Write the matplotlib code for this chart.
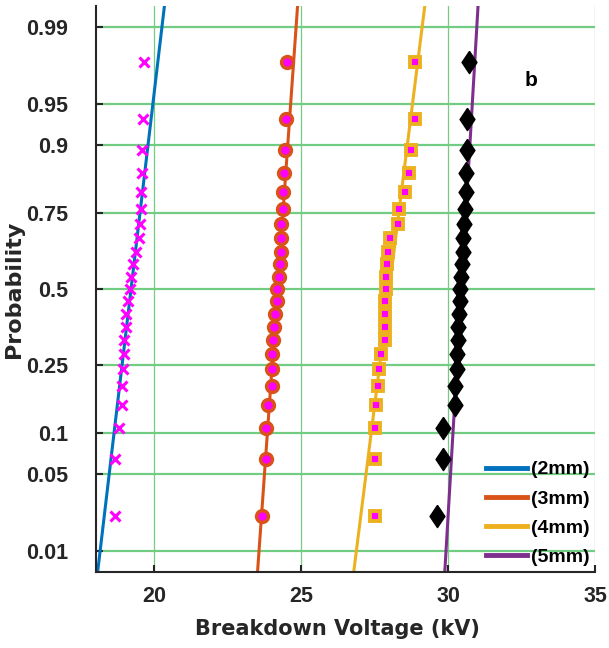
import numpy as np
import matplotlib
matplotlib.use('Agg')
import matplotlib.pyplot as plt
from matplotlib.lines import Line2D
from statistics import NormalDist

plt.rcParams['font.family'] = ['Liberation Sans', 'DejaVu Sans']
plt.rcParams['font.weight'] = 'bold'

# breakdown voltages (kV), sorted, 23 shots per gap
v_2mm = [18.65, 18.66, 18.80, 18.89, 18.91, 18.92, 18.97, 18.98, 19.03, 19.03, 19.11, 19.17,
         19.21, 19.26, 19.37, 19.49, 19.52, 19.55, 19.56, 19.57, 19.59, 19.60, 19.65]
v_3mm = [23.67, 23.80, 23.81, 23.86, 23.99, 24.00, 24.01, 24.04, 24.08, 24.09, 24.16, 24.17,
         24.24, 24.28, 24.31, 24.31, 24.31, 24.39, 24.39, 24.42, 24.46, 24.48, 24.51]
v_4mm = [27.50, 27.50, 27.50, 27.53, 27.60, 27.63, 27.70, 27.84, 27.84, 27.84, 27.84, 27.87,
         27.87, 27.91, 27.94, 28.00, 28.29, 28.33, 28.52, 28.67, 28.74, 28.86, 28.86]
v_5mm = [29.62, 29.81, 29.83, 30.21, 30.23, 30.28, 30.30, 30.32, 30.32, 30.36, 30.39, 30.41,
         30.44, 30.48, 30.49, 30.51, 30.54, 30.58, 30.60, 30.61, 30.62, 30.64, 30.70]

# normal fit (mean, sigma) of each gap
fit_mu = [19.205, 24.19, 27.99, 30.445]
fit_sigma = [0.452, 0.271, 0.481, 0.225]

labels = ['(2mm)', '(3mm)', '(4mm)', '(5mm)']
line_colors = ['#0072BD', '#D95319', '#EDB120', '#7E2F8E']

prob_ticks = [0.01, 0.05, 0.1, 0.25, 0.5, 0.75, 0.9, 0.95, 0.99]
prob_labels = ['0.01', '0.05', '0.1', '0.25', '0.5', '0.75', '0.9', '0.95', '0.99']

nd = NormalDist()
zmax = 2.513

fig = plt.figure(figsize=(6.09, 6.48), dpi=100)
ax = fig.add_axes([0.157, 0.1173, 0.8205, 0.8734])

grid_green = '#72CC82'
for p in prob_ticks:
    ax.axhline(nd.inv_cdf(p), color=grid_green, lw=1.6, zorder=0)
for xv in [20, 25, 30, 35]:
    ax.axvline(xv, color=grid_green, lw=0.9, zorder=0)

# fitted lines
zz = np.array([-zmax, zmax])
for mu, sg, c in zip(fit_mu, fit_sigma, line_colors):
    ax.plot(mu + sg * zz, zz, color=c, lw=2.2, zorder=2)

def ppos(v):
    n = len(v)
    return [nd.inv_cdf((i - 0.5) / n) for i in range(1, n + 1)]

diamond = [(0, 1), (0.67, 0), (0, -1), (-0.67, 0), (0, 1)]

ax.plot(v_2mm, ppos(v_2mm), 'x', color='#FF00FF', ms=7.5, mew=2.2, zorder=3)
ax.plot(v_3mm, ppos(v_3mm), 'o', mfc='#FF00FF', mec='#D95319', ms=8.5, mew=2.5, zorder=3)
ax.plot(v_4mm, ppos(v_4mm), 's', mfc='#FF00FF', mec='#EDB120', ms=7.5, mew=2.8, zorder=3)
ax.plot(v_5mm, ppos(v_5mm), marker=diamond, ls='none', color='black', ms=16, zorder=3)

ax.set_xlim(18, 35)
ax.set_ylim(-zmax, zmax)
ax.set_xticks([20, 25, 30, 35])
ax.set_yticks([nd.inv_cdf(p) for p in prob_ticks])
ax.set_yticklabels(prob_labels)
ax.tick_params(direction='in', length=5, width=1.5, labelsize=15.5, colors='#262626')
ax.tick_params(axis='x', pad=10)
ax.tick_params(axis='y', pad=20)
for s in ['top', 'right']:
    ax.spines[s].set_visible(False)
for s in ['left', 'bottom']:
    ax.spines[s].set_linewidth(1.5)
    ax.spines[s].set_color('#262626')

ax.set_xlabel('Breakdown Voltage (kV)', fontsize=15, fontweight='bold', color='#262626',
              family='DejaVu Sans')
ax.xaxis.set_label_coords(0.483, -0.083)
ax.set_ylabel('Probability', fontsize=16, fontweight='bold', color='#262626',
              labelpad=1, family='DejaVu Sans')

ax.text(32.8, nd.inv_cdf(0.968), 'b', fontsize=15, fontweight='bold', ha='center', va='center')

handles = [Line2D([0], [0], color=c, lw=3.5) for c in line_colors]
ax.legend(handles, labels, loc='lower right', frameon=False,
          handlelength=2.1, handletextpad=0.2, labelspacing=0.6,
          borderpad=0, borderaxespad=0.3, prop={'weight': 'bold', 'size': 14})

fig.savefig('out.png', dpi=100)
